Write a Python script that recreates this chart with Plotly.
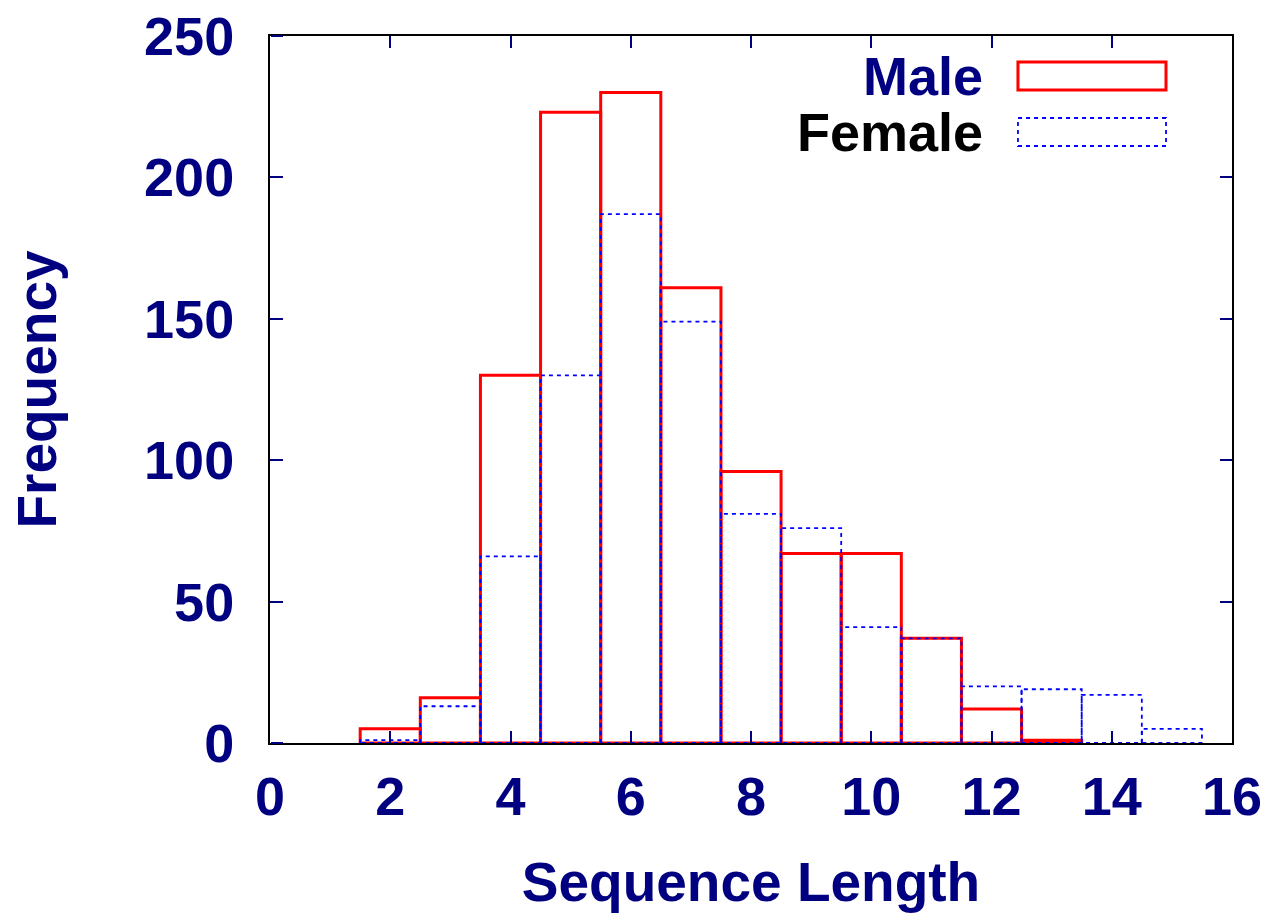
import plotly.graph_objects as go

# Histogram of sequence lengths (bin centres and counts)
bins = [2, 3, 4, 5, 6, 7, 8, 9, 10, 11, 12, 13, 14, 15]
male = [5, 16, 130, 223, 230, 161, 96, 67, 67, 37, 12, 1, 0, 0]
female = [1, 13, 66, 130, 187, 149, 81, 76, 41, 37, 20, 19, 17, 5]

x_ticks = [0, 2, 4, 6, 8, 10, 12, 14, 16]
y_ticks = [0, 50, 100, 150, 200, 250]

NAVY = "#000080"
FONT = "Liberation Sans, Arial, sans-serif"
BOX_WIDTH = 1.0
MALE_LINE = dict(color="#ff0000", width=3)
FEMALE_LINE = dict(color="#0000ff", width=1.8, dash="4px,4px")


def box_outline(centres, counts):
    """Build closed rectangle paths (one per non-empty bin) for a boxes plot."""
    xs, ys = [], []
    half = BOX_WIDTH / 2
    for c, v in zip(centres, counts):
        if v <= 0:
            continue
        xs += [c - half, c - half, c + half, c + half, c - half, None]
        ys += [0, v, v, 0, 0, None]
    return xs, ys


fig = go.Figure()

mx, my = box_outline(bins, male)
fig.add_trace(go.Scatter(x=mx, y=my, mode="lines", name="Male",
                         line=MALE_LINE, showlegend=False, hoverinfo="skip"))

fx, fy = box_outline(bins, female)
fig.add_trace(go.Scatter(x=fx, y=fy, mode="lines", name="Female",
                         line=FEMALE_LINE, showlegend=False, hoverinfo="skip"))

axis_common = dict(
    showgrid=False, zeroline=False, automargin=False,
    showline=True, linecolor="black", linewidth=2, mirror="ticks",
    ticks="inside", ticklen=12, tickwidth=2, tickcolor=NAVY,
    tickfont=dict(family=FONT, size=54, color=NAVY, weight="bold"),
)

fig.update_xaxes(range=[0, 16], tickvals=x_ticks, ticklabelstandoff=5,
                 title=dict(text="Sequence Length", standoff=52,
                            font=dict(family=FONT, size=55, color=NAVY, weight="bold")),
                 **axis_common)
fig.update_yaxes(range=[0, 250], tickvals=y_ticks, ticklabelstandoff=23,
                 title=dict(text="Frequency", standoff=70,
                            font=dict(family=FONT, size=55, color=NAVY, weight="bold")),
                 **axis_common)

# Overlaid right-sided axis pinned to the left border: its outward ticks
# point into the plot, giving the inward ticks along the left edge.
fig.update_layout(yaxis2=dict(
    overlaying="y", side="right", anchor="free", position=0,
    range=[0, 250], tickvals=y_ticks,
    ticks="outside", ticklen=12, tickwidth=2, tickcolor=NAVY,
    showticklabels=False, showline=False, showgrid=False, zeroline=False,
    automargin=False,
))
fig.add_trace(go.Scatter(x=[0], y=[0], yaxis="y2", mode="markers",
                         marker=dict(opacity=0), showlegend=False,
                         hoverinfo="skip"))

# Key: text labels with rectangle samples
key = [("Male", NAVY, MALE_LINE, 0.9632, 0.9236),
       ("Female", "black", FEMALE_LINE, 0.884, 0.8444)]
for label, tcolor, line, y1, y0 in key:
    fig.add_shape(type="rect", xref="paper", yref="paper",
                  x0=0.7775, x1=0.9314, y0=y0, y1=y1, line=line,
                  fillcolor="rgba(0,0,0,0)")
    fig.add_annotation(xref="paper", yref="paper", x=0.7432, y=(y0 + y1) / 2,
                       xanchor="right", yanchor="middle", showarrow=False,
                       text=label,
                       font=dict(family=FONT, size=54, color=tcolor, weight="bold"))

fig.update_layout(
    width=1277, height=913,
    margin=dict(l=270, r=45, t=36, b=170),
    paper_bgcolor="white", plot_bgcolor="white",
    showlegend=False,
)

fig.write_html("out.html")
